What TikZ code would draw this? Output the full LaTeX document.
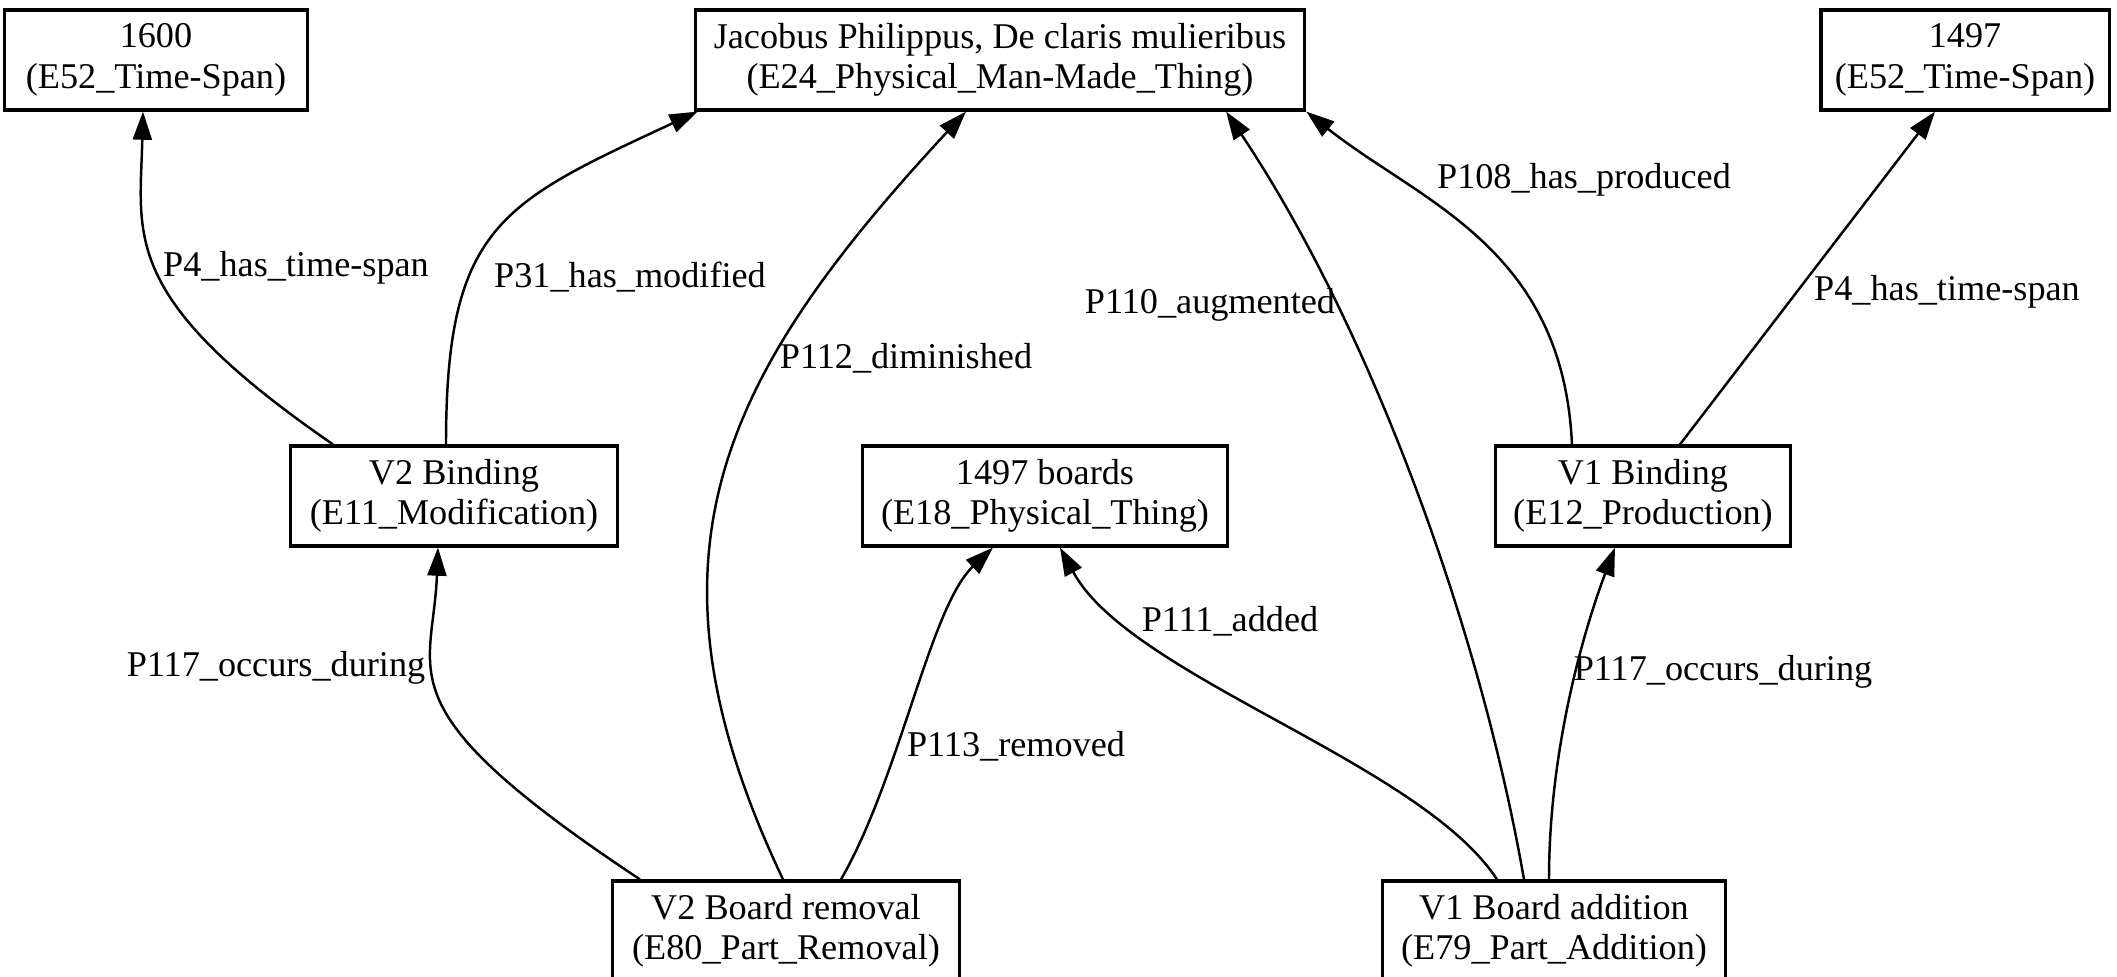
\documentclass[tikz,border=0pt]{standalone}
\usepackage{fontspec}
\setmainfont{Liberation Serif}
\usetikzlibrary{arrows.meta}
\tikzset{
  cls/.style={draw,line width=.9pt,fill=white,align=center,minimum height=1cm,inner sep=1pt,font=\fontsize{10.3}{11.5}\selectfont},
  rel/.style={-{Triangle[length=8pt,width=5.4pt]},line width=.7pt},
  prop/.style={inner sep=0pt,font=\fontsize{10.3}{11.5}\selectfont},
}

\begin{document}
\begin{tikzpicture}[x=0.01cm,y=0.01cm]
\useasboundingbox (0,0) rectangle (2117,977);
% entities
\node[cls,minimum width=3.02cm] (t1) at (156,917){1600\\(E52\_Time-Span)};
\node[cls,minimum width=6.09cm] (jp) at (1000,917){Jacobus Philippus, De claris mulieribus\\(E24\_Physical\_Man-Made\_Thing)};
\node[cls,minimum width=2.88cm] (t2) at (1965,917){1497\\(E52\_Time-Span)};
\node[cls,minimum width=3.26cm] (v2b) at (454,481){V2 Binding\\(E11\_Modification)};
\node[cls,minimum width=3.64cm] (brd) at (1045,481){1497 boards\\(E18\_Physical\_Thing)};
\node[cls,minimum width=2.95cm] (v1b) at (1643,481){V1 Binding\\(E12\_Production)};
\node[cls,minimum width=3.46cm] (v2r) at (786,46){V2 Board removal\\(E80\_Part\_Removal)};
\node[cls,minimum width=3.43cm] (v1a) at (1554,46){V1 Board addition\\(E79\_Part\_Addition)};
% properties
\draw[rel] ([xshift=-12.1mm]v2b.north) .. controls (119,680) and (140,740) .. ([xshift=-1.3mm]t1.south);
\draw[rel] ([xshift=-.8mm]v2b.north) .. controls (446,751) and (501,774) .. ([xshift=.4mm]jp.south west);
\draw[rel] ([xshift=-.3mm]v2r.north) .. controls (630,420) and (720,600) .. ([xshift=-3.4mm]jp.south);
\draw[rel] ([xshift=-3mm]v1a.north) .. controls (1480,350) and (1370,650) .. ([xshift=22.6mm]jp.south);
\draw[rel] ([xshift=-7.1mm]v1b.north) .. controls (1563,730) and (1420,775) .. (jp.south east);
\draw[rel] ([xshift=3.7mm]v1b.north) -- ([xshift=-3mm]t2.south);
\draw[rel] ([xshift=-14.6mm]v2r.north) .. controls (380,270) and (433,300) .. ([xshift=-1.6mm]v2b.south);
\draw[rel] ([xshift=5.5mm]v2r.north) .. controls (900,200) and (930,370) .. ([xshift=-5.2mm]brd.south);
\draw[rel] ([xshift=-5.7mm]v1a.north) .. controls (1420,215) and (1130,300) .. ([xshift=1.5mm]brd.south);
\draw[rel] ([xshift=-.5mm]v1a.north) .. controls (1549,230) and (1585,350) .. ([xshift=-2.8mm]v1b.south);
% labels
\node[prop] (l1) at (296,709){P4\_has\_time-span};
\node[prop] (l2) at (630,700){P31\_has\_modified};
\node[prop] (l3) at (906,619){P112\_diminished};
\node[prop] (l4) at (1210,672){P110\_augmented};
\node[prop] (l5) at (1584,797){P108\_has\_produced};
\node[prop] (l6) at (1947,685){P4\_has\_time-span};
\node[prop] (l7) at (276,309){P117\_occurs\_during};
\node[prop] (l8) at (1016,231){P113\_removed};
\node[prop] (l9) at (1230,356){P111\_added};
\node[prop] (l10) at (1723,305){P117\_occurs\_during};
\end{tikzpicture}
\end{document}
